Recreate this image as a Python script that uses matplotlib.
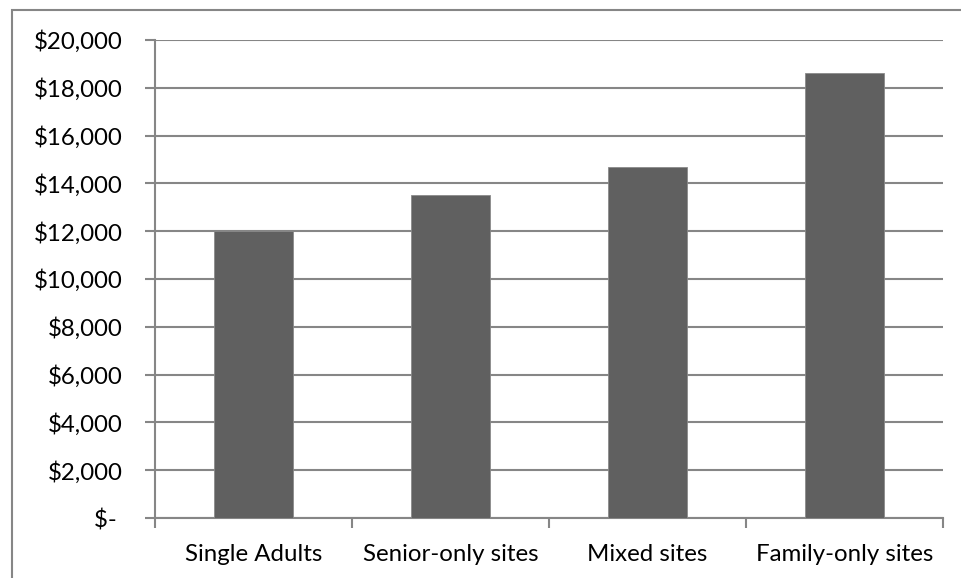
import matplotlib.pyplot as plt
from matplotlib.patches import Rectangle
from matplotlib.ticker import FuncFormatter, FixedLocator

plt.rcParams['font.family'] = ['Lato', 'DejaVu Sans']

categorias = ['Single Adults', 'Senior-only sites', 'Mixed sites', 'Family-only sites']
custo = [12000, 13500, 14700, 18600]
y_ticks = [0, 2000, 4000, 6000, 8000, 10000, 12000, 14000, 16000, 18000, 20000]

cinza = '#868686'

fig = plt.figure(figsize=(9.61, 5.78), dpi=100)
# moldura do grafico (sai pela direita e por baixo)
fig.patches.append(Rectangle((12/961, -0.05), 1.1, 1 - 10/578 + 0.05, transform=fig.transFigure,
                             fill=False, edgecolor=cinza, linewidth=1.5))

ax = fig.add_axes([155/961, 1 - 518/578, (943-155)/961, (518-40)/578])
x = list(range(len(categorias)))
ax.bar(x, custo, width=0.4, color='#606060', edgecolor='#8a8a8a', linewidth=0.6, zorder=3)

ax.set_xlim(-0.5, len(categorias) - 0.5)
ax.set_ylim(0, 20000)
ax.set_yticks(y_ticks)
ax.yaxis.set_major_formatter(FuncFormatter(lambda v, p: '$- ' if v == 0 else '${:,.0f}'.format(v)))
ax.grid(axis='y', color=cinza, linewidth=1.5, zorder=0)

ax.set_xticks(x)
ax.set_xticklabels(categorias)
ax.xaxis.set_minor_locator(FixedLocator([i - 0.5 for i in range(len(categorias) + 1)]))
ax.tick_params(axis='x', which='major', length=0, pad=18.5, labelsize=17.3)
ax.tick_params(axis='x', which='minor', length=7, width=1.5, color=cinza, direction='out')
ax.tick_params(axis='y', length=7, width=1.5, color=cinza, pad=16, labelsize=17.3)

for s in ['top', 'right']:
    ax.spines[s].set_visible(False)
for s in ['left', 'bottom']:
    ax.spines[s].set_color(cinza)
    ax.spines[s].set_linewidth(1.5)

fig.savefig('out.png', dpi=100)
